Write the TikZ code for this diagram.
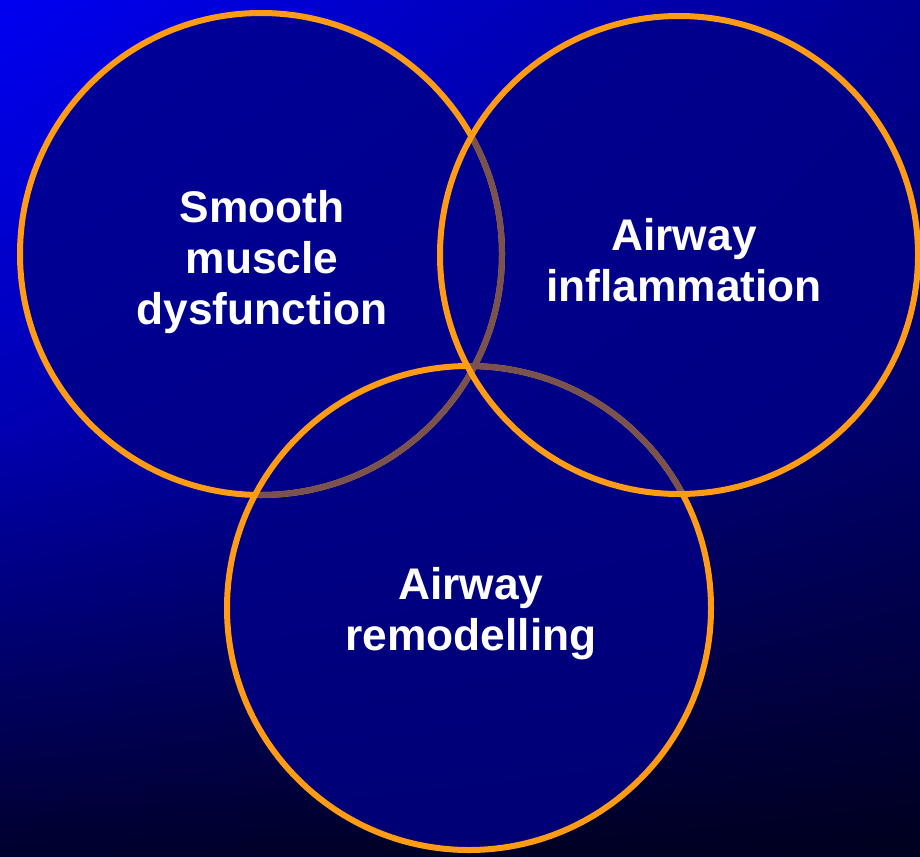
\documentclass[tikz,border=0pt]{standalone}
\usepackage{fontspec}
\setmainfont{Liberation Sans}
\usetikzlibrary{shadings}
\definecolor{bgUL}{RGB}{0,0,242}
\definecolor{bgUR}{RGB}{0,0,145}
\definecolor{bgML}{RGB}{0,0,178}
\definecolor{bgMR}{RGB}{0,0,105}
\definecolor{bgLL}{RGB}{0,0,45}
\definecolor{bgLR}{RGB}{0,0,30}
\definecolor{circnavy}{RGB}{0,0,135}
\definecolor{ringorange}{RGB}{255,155,20}
\definecolor{ringbrown}{RGB}{122,82,78}
\tikzset{
  ring/.style={draw=ringorange, line width=6pt},
  hiddenring/.style={draw=ringbrown, line width=6pt},
  circfill/.style={fill=circnavy, fill opacity=0.8},
  label/.style={text=white, font=\fontsize{44.3}{51}\selectfont\bfseries, align=center, inner sep=0pt}
}
\begin{document}
\begin{tikzpicture}[x=1pt,y=-1pt]
\useasboundingbox (0,0) rectangle (920,856);
\shade[upper left=bgUL, upper right=bgUR, lower left=bgML, lower right=bgMR] (0,0) rectangle (920,428.5);
\shade[upper left=bgML, upper right=bgMR, lower left=bgLL, lower right=bgLR] (0,428) rectangle (920,856);
\coordinate (c1) at (261,254);
\coordinate (c2) at (679,255);
\coordinate (c3) at (469,608);
% union fill
\fill[circfill] (c1) circle[radius=241pt] (c2) circle[radius=239pt] (c3) circle[radius=242pt];
% circle 1
\draw[ring] (c1) circle[radius=241pt];
\begin{scope}
  \clip (c2) circle[radius=239pt] (c3) circle[radius=242pt];
  \draw[hiddenring] (c1) circle[radius=241pt];
\end{scope}
% circle 3
\draw[ring] (c3) circle[radius=242pt];
\begin{scope}
  \clip (c2) circle[radius=239pt];
  \draw[hiddenring] (c3) circle[radius=242pt];
\end{scope}
% circle 2
\draw[ring] (c2) circle[radius=239pt];
% labels
\node[label] (smooth) at (262,262) {Smooth\\muscle\\dysfunction};
\node[label] (inflam) at (684,260) {Airway\\inflammation};
\node[label] (remod) at (471,614) {Airway\\remodelling};
\end{tikzpicture}
\end{document}
